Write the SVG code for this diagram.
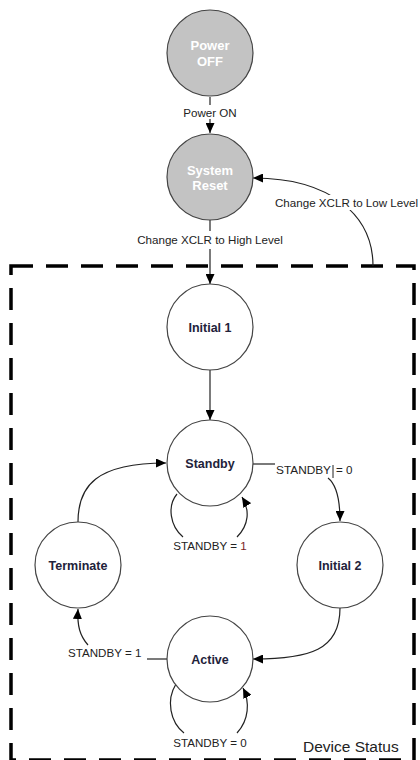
<svg xmlns="http://www.w3.org/2000/svg" width="420" height="760" viewBox="0 0 420 760">
  <style>
    .state { fill: #ffffff; stroke: #444444; stroke-width: 1.2; }
    .state-off { fill: #c3c3c3; stroke: #444444; stroke-width: 1.2; }
    .name { font-family: "Liberation Sans", Arial, sans-serif; font-weight: bold; font-size: 12.5px; fill: #22223a; text-anchor: middle; }
    .name-off { font-family: "Liberation Sans", Arial, sans-serif; font-weight: bold; font-size: 13px; fill: #ffffff; text-anchor: middle; }
    .edge { fill: none; stroke: #222222; stroke-width: 1.2; }
    .label { font-family: "Liberation Sans", Arial, sans-serif; font-size: 11.6px; fill: #222222; }
    .frame { fill: none; stroke: #000000; stroke-width: 3.5; stroke-dasharray: 22 13; }
  </style>
  <defs>
    <marker id="arrow" markerUnits="userSpaceOnUse" markerWidth="10" markerHeight="9" refX="10" refY="4.5" orient="auto" viewBox="0 0 10 9">
      <path d="M0,0 L10,4.5 L0,9 z" fill="#000000"/>
    </marker>
  </defs>

  <rect width="420" height="760" fill="#ffffff"/>

  <!-- dashed device status frame -->
  <g id="device-status">
    <rect class="frame" x="11" y="266" width="403" height="494"/>
    <text x="303" y="752" font-family="Liberation Sans, Arial, sans-serif" font-size="15.5px" fill="#222222">Device Status</text>
  </g>

  <!-- connectors and their labels -->
  <g id="connectors">
    <!-- Power OFF -> System Reset -->
    <path class="edge" d="M210,97 L210,105"/>
    <path class="edge" d="M210,119 L210,133" marker-end="url(#arrow)"/>
    <text class="label" x="210" y="117" text-anchor="middle">Power ON</text>

    <!-- System Reset -> Initial 1 -->
    <path class="edge" d="M210,220 L210,231"/>
    <path class="edge" d="M210,249 L210,284" marker-end="url(#arrow)"/>
    <text class="label" x="210" y="244" text-anchor="middle">Change XCLR to High Level</text>

    <!-- frame -> System Reset -->
    <path class="edge" d="M373,266 C373,215 330,178 253,178" marker-end="url(#arrow)"/>
    <rect x="273" y="195" width="147" height="15" fill="#ffffff"/>
    <text class="label" x="275" y="207">Change XCLR to Low Level</text>

    <!-- Initial 1 -> Standby -->
    <path class="edge" d="M210,370 L210,420" marker-end="url(#arrow)"/>

    <!-- Standby self loop -->
    <path class="edge" d="M177,494 C167,506 170,526 183,537"/>
    <path class="edge" d="M237,537 C249,525 250,510 242,497" marker-end="url(#arrow)"/>
    <text class="label" x="210" y="550" text-anchor="middle">STANDBY = <tspan fill="#7a1f1f">1</tspan></text>

    <!-- Standby -> Initial 2 -->
    <path class="edge" d="M253,464 L275,464"/>
    <text class="label" x="276" y="474" textLength="55" lengthAdjust="spacingAndGlyphs">STANDBY</text>
    <text class="label" x="336" y="474">= 0</text>
    <path d="M333,465 L333,478" stroke="#222222" stroke-width="1"/>
    <path class="edge" d="M328,478 C337,485 340,500 340,521" marker-end="url(#arrow)"/>

    <!-- Initial 2 -> Active -->
    <path class="edge" d="M340,608 C340,650 310,659 253,659" marker-end="url(#arrow)"/>

    <!-- Active self loop -->
    <path class="edge" d="M176,684 C166,700 170,722 184,733"/>
    <path class="edge" d="M237,733 C249,720 250,702 243,688" marker-end="url(#arrow)"/>
    <text class="label" x="210" y="747" text-anchor="middle">STANDBY = 0</text>

    <!-- Active -> Terminate -->
    <path class="edge" d="M167,659 L147,659"/>
    <text class="label" x="68" y="657">STANDBY = 1</text>
    <path class="edge" d="M88,645 C80,636 77,626 78,609" marker-end="url(#arrow)"/>

    <!-- Terminate -> Standby -->
    <path class="edge" d="M78,522 C78,486 96,463 166,463" marker-end="url(#arrow)"/>
  </g>

  <!-- states -->
  <g id="power-off">
    <circle class="state-off" cx="210" cy="53" r="43"/>
    <text class="name-off" x="210" y="50">Power</text>
    <text class="name-off" x="210" y="66">OFF</text>
  </g>
  <g id="system-reset">
    <circle class="state-off" cx="210" cy="177" r="43"/>
    <text class="name-off" x="210" y="175">System</text>
    <text class="name-off" x="210" y="190">Reset</text>
  </g>
  <g id="initial-1">
    <circle class="state" cx="210" cy="327" r="43"/>
    <text class="name" x="210" y="332">Initial 1</text>
  </g>
  <g id="standby">
    <circle class="state" cx="210" cy="463" r="43"/>
    <text class="name" x="210" y="468">Standby</text>
  </g>
  <g id="initial-2">
    <circle class="state" cx="340" cy="565" r="43"/>
    <text class="name" x="340" y="570">Initial 2</text>
  </g>
  <g id="terminate">
    <circle class="state" cx="78" cy="565" r="43"/>
    <text class="name" x="78" y="570">Terminate</text>
  </g>
  <g id="active">
    <circle class="state" cx="210" cy="659" r="43"/>
    <text class="name" x="210" y="664">Active</text>
  </g>
</svg>
